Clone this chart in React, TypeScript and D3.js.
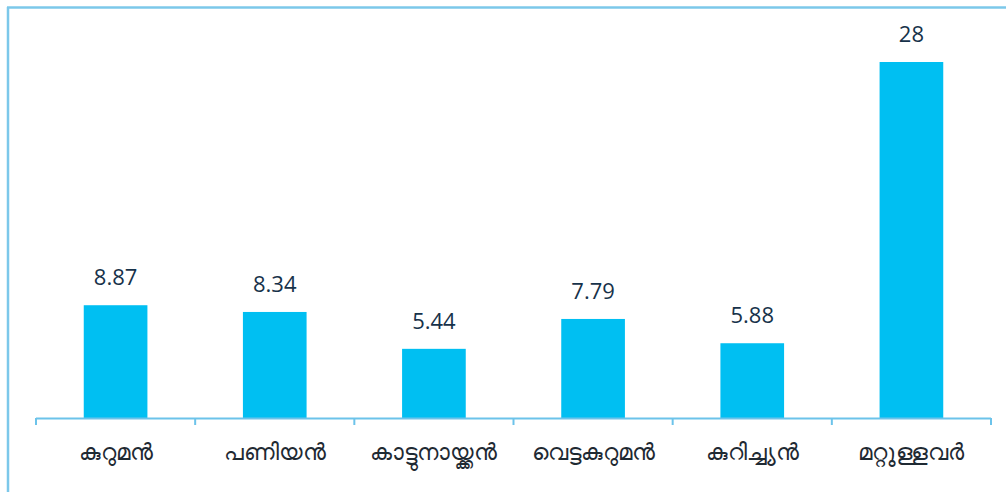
import React from "react";
import * as d3 from "d3";

const categories = ["കുറുമൻ", "പണിയൻ", "കാട്ടുനായ്ക്കൻ", "വെട്ടകുറുമൻ", "കുറിച്ച്യൻ", "മറ്റുള്ളവർ"];
const values = [8.87, 8.34, 5.44, 7.79, 5.88, 28];
const valueLabels = ["8.87", "8.34", "5.44", "7.79", "5.88", "28"];

const W = 1006;
const H = 492;

export default function App() {
  const x = d3.scaleBand<string>().domain(categories).range([36, 991]).paddingInner(0.6).paddingOuter(0.3);
  const y = d3.scaleLinear().domain([0, 28]).range([418, 62]);
  const bw = x.bandwidth();
  const ticks = d3.range(categories.length + 1).map((i) => 36 + (i * (991 - 36)) / categories.length);
  return (
    <svg width={W} height={H} style={{ position: "absolute", left: 0, top: 0, background: "#fff" }}>
      <line x1={8} x2={8} y1={7} y2={H} stroke="#7cc8ea" strokeWidth={2.5} />
      <line x1={7} x2={W} y1={7.5} y2={7.5} stroke="#7cc8ea" strokeWidth={2.5} />
      {categories.map((c, i) => (
        <rect key={c} x={x(c)!} y={y(values[i])} width={bw} height={y(0) - y(values[i])} fill="#00bff2" />
      ))}
      <line x1={36} x2={991} y1={418.5} y2={418.5} stroke="#6cc3ea" strokeWidth={2} />
      {ticks.map((t, i) => (
        <line key={i} x1={t} x2={t} y1={418} y2={425} stroke="#6cc3ea" strokeWidth={2} />
      ))}
      {categories.map((c, i) => (
        <text
          key={"v" + c}
          x={x(c)! + bw / 2}
          y={y(values[i]) - 20}
          textAnchor="middle"
          fontSize={22}
          fill="#17324a"
          fontFamily="'Open Sans', 'Noto Sans', sans-serif"
        >
          {valueLabels[i]}
        </text>
      ))}
      {categories.map((c) => (
        <text
          key={"c" + c}
          x={x(c)! + bw / 2}
          y={460}
          textAnchor="middle"
          fontSize={23}
          fill="#1f2a33"
          fontFamily="'Noto Sans', 'DejaVu Sans', sans-serif"
        >
          {c}
        </text>
      ))}
    </svg>
  );
}
